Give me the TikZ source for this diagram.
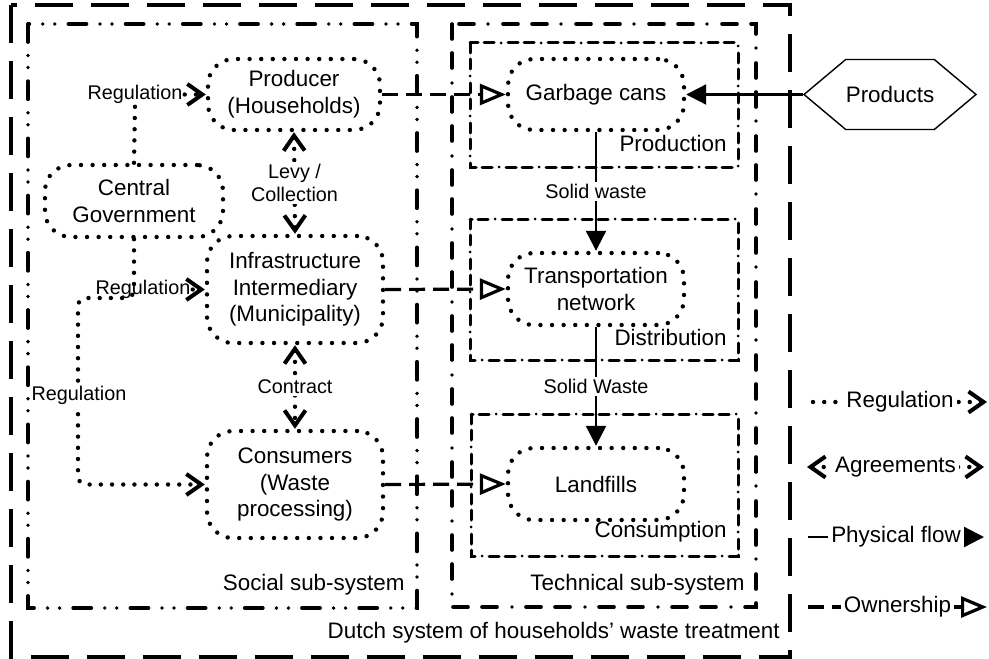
\documentclass[tikz,border=0pt]{standalone}
\usepackage{fontspec}
\setmainfont{Liberation Sans}
\usetikzlibrary{arrows.meta,shapes.symbols}

\begin{document}
\begin{tikzpicture}[x=0.5pt,y=-0.5pt,
  mainfont/.style={font=\fontsize{11.2}{13.3}\selectfont},
  smallfont/.style={font=\fontsize{9.9}{11.6}\selectfont},
  chev/.tip={Straight Barb[length=7.5pt,width=10.5pt,line width=2pt]},
  % actors and technical components: dotted rounded boxes
  actor/.style={draw, rounded corners=13pt, line width=2.2pt, line cap=round,
    dash pattern=on 0pt off 5.8pt, align=center, mainfont, inner sep=0pt},
  % system boundaries
  outerbox/.style={line width=1.6pt, dash pattern=on 19pt off 9pt},
  socialbox/.style={line width=1.9pt, line cap=round, dash pattern=on 9pt off 6.8pt on 0pt off 6pt on 0pt off 6.8pt},
  techbox/.style={line width=1.8pt, line cap=round, dash pattern=on 7.5pt off 7pt on 7.5pt off 7.5pt on 0pt off 7pt},
  stagebox/.style={line width=1.5pt, line cap=round, dash pattern=on 5pt off 3pt on 5pt off 3.5pt on 0pt off 3.5pt},
  % relations
  regl/.style={line width=2.2pt, line cap=round, dash pattern=on 0pt off 5.6pt},
  regarrow/.style={regl, -{chev}},
  agr/.style={regl, {chev}-{chev}},
  own/.style={line width=1.6pt, dash pattern=on 8pt off 4pt,
    -{Triangle[open,length=13pt,width=10.5pt,line width=1.6pt]}},
  phys/.style={line width=1.1pt, -{Triangle[length=10pt,width=10pt]}},
  lbl/.style={smallfont, align=center, inner sep=1pt},
  boxlbl/.style={mainfont, inner sep=0pt},
  legtxt/.style={mainfont, fill=white, inner sep=1.5pt}
]
\useasboundingbox (0,0) rectangle (989,658);

% boundaries
\draw[outerbox] (11,5) rectangle (790,657);
\draw[socialbox] (28,24) rectangle (417,608);
\draw[techbox] (452,24) rectangle (756,607);
\draw[stagebox] (470,43) rectangle (738,167);
\draw[stagebox] (470,219) rectangle (738,360);
\draw[stagebox] (471,414) rectangle (738,556);

\node[boxlbl, anchor=east] (lprod) at (727,143) {Production};
\node[boxlbl, anchor=east] (ldist) at (727,337) {Distribution};
\node[boxlbl, anchor=east] (lcons) at (727,532) {Consumption};
\node[boxlbl, anchor=east] (lsoc) at (405,585) {Social sub-system};
\node[boxlbl, anchor=east] (ltech) at (745,585) {Technical sub-system};
\node[boxlbl, anchor=east] (ldutch) at (780,633) {Dutch system of households’ waste treatment};

% social actors
\node[actor, minimum width=86pt, minimum height=35.5pt] (prod) at (294,94.5) {Producer\\(Households)};
\node[actor, minimum width=89pt, minimum height=36pt] (cg) at (134,201) {Central\\Government};
\node[actor, minimum width=88pt, minimum height=53.5pt] (infra) at (295,289.5) {Infrastructure\\Intermediary\\(Municipality)};
\node[actor, minimum width=88pt, minimum height=53.5pt] (cons) at (295,484.5) {Consumers\\(Waste\\processing)};

% technical components
\node[actor, minimum width=88pt, minimum height=35.5pt] (cans) at (596,94.5) {Garbage cans};
\node[actor, minimum width=88pt, minimum height=36pt] (trans) at (596,289) {Transportation\\network};
\node[actor, minimum width=88pt, minimum height=36pt] (land) at (596,484) {Landfills};

\node[draw, line width=0.7pt, signal, signal to=west and east, signal pointer angle=80,
  minimum width=86pt, minimum height=35pt, inner sep=0pt, mainfont] (goods) at (890,94.5) {Products};

% regulation
\node[lbl] (reg1) at (135,94.5) {Regulation};
\node[lbl] (reg2) at (143,289.5) {Regulation};
\coordinate (bend) at (78,298);
\draw[regl] (cg.north) -- (reg1.south);
\draw[regarrow] (reg1.east) -- (prod.west);
\draw[regarrow, rounded corners=4pt] (cg.south) |- (bend) |- (cons.west);
\draw[regarrow] (reg2.east) -- (infra.west);
\node[lbl, fill=white] (reg3) at (79,395) {Regulation};

% agreements
\draw[agr] (prod.south) -- node[lbl, fill=white] (levy) {Levy /\\Collection} (infra.north);
\draw[agr] (infra.south) -- node[lbl, fill=white] (contract) {Contract} (cons.north);

% ownership
\draw[own] (prod.east) -- (cans.west);
\draw[own] (infra.east) -- (trans.west);
\draw[own] (cons.east) -- (land.west);

% physical flows
\draw[phys] (goods.west) -- (cans.east);
\draw[phys] (cans.south) -- node[lbl, fill=white] (sw1) {Solid waste} (trans.north);
\draw[phys] (trans.south) -- node[lbl, fill=white] (sw2) {Solid Waste} (land.north);

% legend
\coordinate (la1) at (813,402); \coordinate (la2) at (987,402);
\coordinate (lb1) at (807,467); \coordinate (lb2) at (984,467);
\coordinate (lc1) at (808,537); \coordinate (lc2) at (984,537);
\coordinate (ld1) at (808,607); \coordinate (ld2) at (987,607);
\draw[regarrow] (la1) -- node[legtxt] (lega) {Regulation} (la2);
\draw[agr] (lb1) -- node[legtxt] (legb) {Agreements} (lb2);
\draw[phys] (lc1) -- node[legtxt] (legc) {Physical flow} (lc2);
\draw[own] (ld1) -- node[legtxt] (legd) {Ownership} (ld2);
\end{tikzpicture}
\end{document}
